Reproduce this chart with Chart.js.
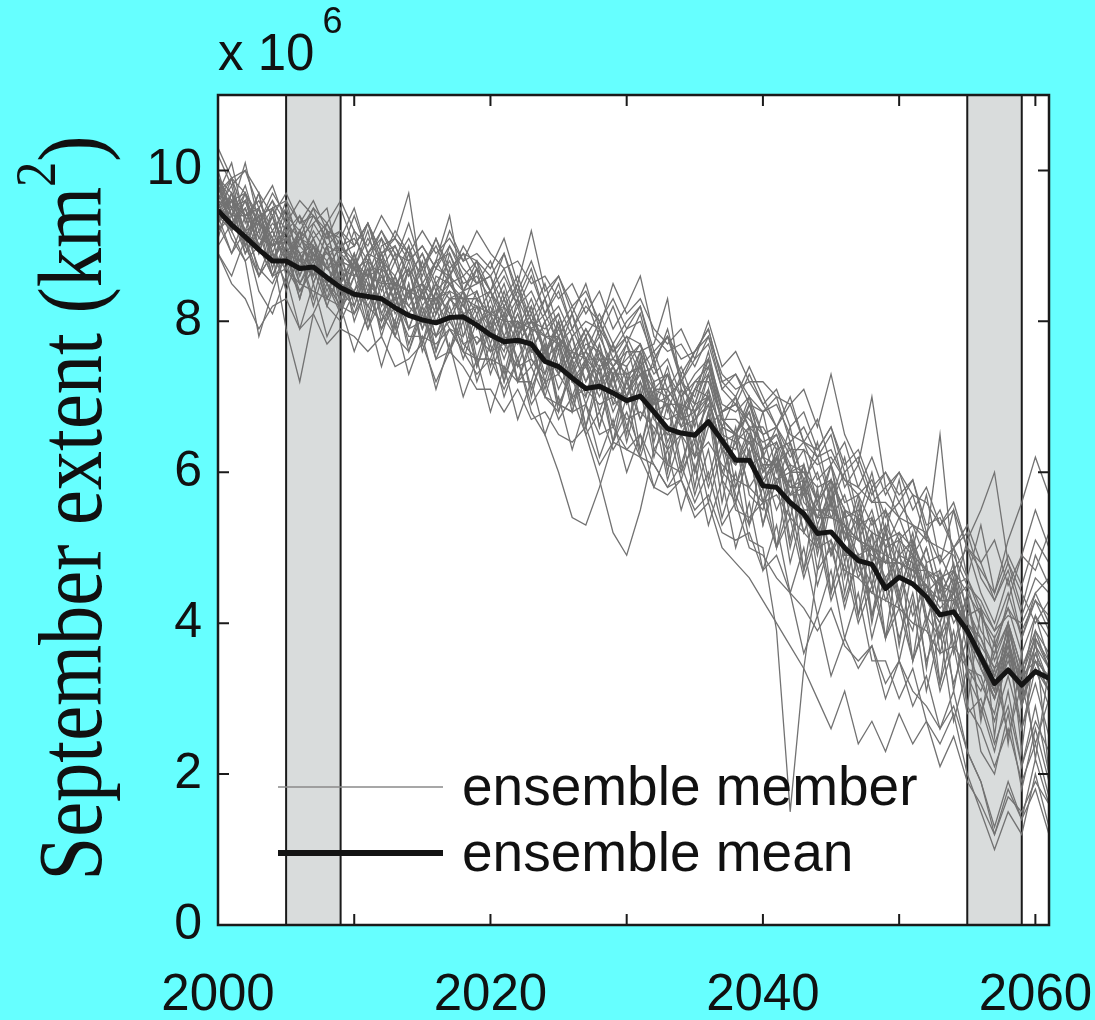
<!DOCTYPE html>
<html>
<head>
<meta charset="utf-8">
<script src="https://cdn.jsdelivr.net/npm/chart.js@4.4.1/dist/chart.umd.min.js"></script>
<style>
html,body{margin:0;padding:0;background:#66ffff;}
#wrap{width:1095px;height:1020px;}
canvas{display:block;}
</style>
</head>
<body>
<div id="wrap"><canvas id="c" width="1095" height="1020"></canvas></div>
<script>
// ---- categories ----
const years = [2000,2001,2002,2003,2004,2005,2006,2007,2008,2009,
  2010,2011,2012,2013,2014,2015,2016,2017,2018,2019,
  2020,2021,2022,2023,2024,2025,2026,2027,2028,2029,
  2030,2031,2032,2033,2034,2035,2036,2037,2038,2039,
  2040,2041,2042,2043,2044,2045,2046,2047,2048,2049,
  2050,2051,2052,2053,2054,2055,2056,2057,2058,2059,2060,2061];

// ---- tick labels & annotations ----
const xTickValues = [2000,2010,2020,2030,2040,2050,2060];
const xTickLabels = [2000,2020,2040,2060];
const yTickValues = [0,2,4,6,8,10];
const bands = [[2005,2009],[2055,2059]];
const legendLabels = ['ensemble member','ensemble mean'];
const yTitle = 'September extent (km';
const ySup = '2';
const multiplierText = 'x 10';
const multiplierExp = '6';

// ---- ensemble mean (x 10^6 km^2) ----
const ensembleMean = [9.47,9.28,9.12,8.95,8.80,8.80,8.70,8.72,8.58,8.45,
  8.36,8.33,8.30,8.18,8.08,8.02,7.98,8.05,8.06,7.95,
  7.82,7.73,7.75,7.70,7.47,7.40,7.25,7.11,7.14,7.05,
  6.95,7.01,6.80,6.58,6.52,6.49,6.67,6.42,6.16,6.16,
  5.82,5.80,5.60,5.45,5.19,5.21,5.00,4.83,4.78,4.46,
  4.61,4.52,4.35,4.11,4.15,3.90,3.55,3.20,3.38,3.18,3.36,3.27];

// ---- ensemble members ----
const m01 = [9.9,9.5,10.1,9.3,9.6,9.0,9.4,8.8,9.3,8.9,
  8.7,9.2,8.5,8.9,8.3,8.8,8.2,8.9,8.4,8.1,
  8.4,7.8,8.2,7.6,8.0,7.3,7.8,7.0,7.6,6.9,
  7.4,6.7,7.2,6.3,6.9,6.0,6.8,5.9,5.6,6.3,
  5.3,5.9,4.8,5.5,4.5,5.1,4.2,4.9,3.8,4.5,
  3.5,4.3,3.1,3.9,2.7,3.4,2.3,2.0,2.8,1.8,2.6,1.9];
const m02 = [9.7,9.9,9.4,9.6,9.2,9.5,9.1,9.3,9.0,9.2,
  8.8,9.3,8.9,9.0,8.6,8.9,8.4,9.0,8.7,8.5,
  8.6,8.2,8.5,8.0,8.3,7.8,8.1,7.6,8.0,7.5,
  7.8,7.4,7.6,7.1,7.4,6.9,7.5,6.8,7.0,6.6,
  6.6,6.3,6.4,5.9,6.2,5.6,6.0,5.3,5.8,5.0,
  5.4,4.9,5.2,4.5,5.0,4.1,4.2,3.5,4.0,3.4,3.9,3.6];
const m03 = [10.2,9.8,10.0,9.5,9.8,9.3,9.6,9.4,9.1,9.5,
  9.0,9.3,8.8,9.2,8.9,8.6,9.1,8.7,8.9,8.8,
  8.4,8.7,8.2,8.6,8.1,8.4,7.9,8.2,8.0,7.6,
  7.9,8.0,7.5,7.8,7.2,7.5,7.7,7.1,6.9,7.3,
  6.9,6.6,7.0,6.4,6.3,6.6,6.0,6.2,5.7,6.0,
  5.6,5.9,5.2,5.5,5.0,5.3,4.8,5.1,4.5,4.9,4.7,5.2];
const m04 = [9.3,9.6,8.9,9.3,8.6,9.0,8.3,8.9,8.2,8.7,
  8.1,8.6,7.8,8.4,7.6,8.2,7.5,7.6,8.0,7.2,
  7.7,7.0,7.5,6.8,6.5,6.0,5.4,5.3,5.8,6.4,
  6.8,6.3,7.0,6.1,6.0,6.4,5.6,6.3,5.5,5.4,
  5.6,5.0,5.4,4.6,5.2,4.3,4.8,4.0,4.5,3.8,
  4.2,3.5,4.0,3.1,3.7,2.8,3.0,2.4,2.9,2.1,2.7,2.3];
const m05 = [9.6,9.1,8.8,7.8,8.4,8.9,8.3,9.0,8.5,8.1,
  8.8,8.3,9.0,9.1,9.7,8.5,8.1,8.7,7.8,8.3,
  7.7,8.2,7.4,7.9,7.2,7.8,7.0,7.5,6.8,7.3,
  6.6,7.2,6.5,7.0,6.1,6.7,6.9,6.0,5.8,6.3,
  5.6,5.9,6.1,5.2,5.7,4.9,5.5,4.7,4.4,5.0,
  4.2,4.9,4.0,4.6,3.6,4.3,3.4,3.0,3.8,2.9,3.5,3.1];
const m06 = [9.4,8.9,9.4,8.6,9.1,8.4,8.9,8.2,8.8,8.1,
  8.6,7.9,8.5,7.8,8.4,7.7,8.2,7.6,8.1,7.4,
  7.9,7.2,7.8,7.1,7.6,6.9,7.3,6.5,5.9,5.2,
  4.9,5.5,6.3,6.6,5.9,6.5,5.8,6.4,5.7,5.3,
  5.8,5.0,5.6,4.7,5.3,4.4,5.0,4.1,4.7,3.8,
  4.4,3.5,4.1,3.2,3.9,2.9,2.6,2.1,2.6,1.9,2.4,1.7];
const m07 = [9.5,9.8,9.1,9.5,8.8,9.2,8.5,8.9,8.4,8.8,
  8.0,8.5,7.9,8.4,7.7,8.2,7.6,8.1,7.5,8.0,
  7.3,7.8,7.2,7.7,7.0,6.8,7.4,6.6,7.2,6.4,
  7.0,6.2,6.8,5.9,6.5,5.7,6.3,5.4,6.0,5.1,
  5.0,3.9,1.5,3.4,4.7,5.0,4.3,4.9,4.1,4.6,
  3.8,4.4,3.5,4.0,3.2,3.8,2.8,3.4,2.5,3.2,2.4,3.0];
const m08 = [9.1,9.7,9.4,8.9,9.5,8.8,9.2,8.6,9.0,8.5,
  8.9,8.4,8.8,8.2,8.7,8.1,8.5,8.0,8.4,7.9,
  8.3,7.7,8.1,7.6,8.0,7.4,7.8,7.2,7.7,7.1,
  7.6,7.6,6.9,7.4,6.7,7.1,7.5,6.6,7.0,6.2,
  6.8,6.0,6.6,5.8,6.4,5.6,6.2,5.4,6.0,5.2,
  5.9,5.0,5.7,4.8,5.5,4.6,5.3,4.4,5.1,5.6,6.2,5.7];
const m09 = [8.9,8.6,9.1,8.4,8.1,8.6,7.9,8.5,7.8,8.2,
  7.6,8.1,7.4,8.0,7.3,7.8,7.1,7.7,7.0,7.5,
  6.8,7.4,6.7,7.2,6.5,7.0,6.3,6.9,6.2,6.7,
  6.0,6.5,5.8,6.3,5.5,6.1,5.3,5.9,5.0,5.6,
  4.7,5.3,4.4,5.0,4.1,4.7,3.8,4.4,3.5,3.5,
  3.0,3.4,2.7,2.4,2.8,2.0,1.5,1.0,1.5,1.2,2.0,1.3];
const m10 = [9.8,9.2,9.6,9.0,8.6,9.1,8.9,8.3,9.0,8.2,
  8.8,8.0,8.7,7.9,8.5,7.6,8.1,8.4,7.7,7.5,
  8.1,7.3,8.0,7.7,7.1,7.7,6.9,7.5,7.3,6.6,
  7.2,7.4,6.4,7.1,6.8,6.0,6.6,6.8,5.8,6.5,
  5.6,6.3,5.4,6.1,5.0,5.8,4.8,5.6,4.5,5.3,
  4.3,5.1,4.1,3.8,4.6,3.6,3.2,2.8,3.6,2.6,3.4,2.9];
const m11 = [10.0,9.4,9.0,9.5,8.9,8.5,9.1,9.0,8.3,8.9,
  8.2,8.8,8.1,7.8,8.4,8.5,7.6,8.3,8.4,7.5,
  7.5,8.1,7.2,7.2,7.8,6.9,6.8,7.5,6.6,7.3,
  6.5,7.5,6.3,6.1,7.0,6.2,7.1,5.9,6.6,5.7,
  5.5,6.2,5.1,5.9,4.9,5.7,4.6,5.4,4.1,5.0,
  4.3,3.9,4.8,3.6,4.3,3.3,2.9,2.3,3.1,2.1,2.9,2.0];
const m12 = [9.6,9.4,9.8,9.2,9.5,9.6,9.0,9.4,9.2,8.9,
  9.4,8.9,9.1,8.8,9.3,8.7,9.1,8.6,9.0,8.7,
  8.4,8.9,8.3,8.7,8.1,8.5,7.9,8.3,7.8,8.2,
  7.7,8.1,7.4,7.9,7.2,7.6,7.8,7.1,7.3,6.9,
  6.8,7.0,6.4,6.6,6.2,6.5,5.8,6.1,5.6,5.8,
  5.4,5.7,5.1,6.5,4.7,5.0,4.4,4.0,4.6,3.8,4.4,4.0];
const m13 = [9.7,10.1,9.3,9.7,9.0,9.5,8.7,9.3,9.5,8.7,
  9.2,8.6,9.1,8.4,9.0,8.3,8.8,9.4,8.4,8.5,
  8.6,8.0,8.5,7.8,8.3,7.6,8.1,7.4,7.9,7.2,
  7.7,7.0,7.5,6.8,7.3,6.6,7.3,6.4,6.3,6.9,
  6.5,5.8,6.4,5.6,5.4,6.1,5.1,5.7,4.8,5.5,
  4.6,5.2,4.3,4.0,4.7,3.8,3.5,3.1,4.0,3.0,3.9,3.4];
const m14 = [9.4,9.6,9.2,9.0,9.4,8.9,9.2,9.0,8.8,9.1,
  8.6,8.9,8.8,8.4,8.9,8.3,8.7,8.6,8.4,8.8,
  8.1,8.5,7.9,8.3,7.8,8.1,7.5,7.9,7.6,7.4,
  7.7,7.3,7.4,7.0,7.2,6.8,7.3,6.7,6.5,6.9,
  6.3,6.5,6.0,6.1,5.6,5.9,5.4,5.5,5.0,5.3,
  4.9,5.1,4.6,4.7,4.3,4.5,3.9,3.6,4.0,3.4,3.8,3.5];
const m15 = [9.9,9.7,9.2,9.7,8.9,9.4,8.8,8.6,9.2,8.5,
  8.4,8.9,8.3,8.0,8.7,7.9,8.4,8.6,8.1,7.7,
  7.9,7.6,8.3,7.5,7.3,8.0,7.2,7.0,7.7,6.9,
  7.0,7.5,6.7,6.5,7.1,6.4,7.0,6.3,6.1,6.6,
  5.8,6.3,5.6,5.4,5.1,5.9,4.9,4.9,4.5,5.2,
  4.4,5.0,4.0,4.7,3.7,4.4,3.4,3.1,4.0,3.2,4.1,3.5];
const m16 = [9.8,9.5,9.6,9.3,9.7,9.4,9.2,9.5,9.3,9.6,
  9.2,9.0,9.4,9.1,8.9,9.2,8.9,9.1,8.8,9.2,
  8.9,8.7,8.8,8.5,8.6,8.3,8.5,8.1,8.4,7.9,
  8.2,8.6,7.8,7.6,7.7,7.4,7.8,7.3,7.1,7.2,
  6.9,7.1,6.6,6.8,6.3,6.6,6.1,6.3,5.8,6.0,
  5.7,5.9,5.3,5.4,5.0,5.2,4.6,4.3,4.8,4.2,4.9,4.5];
const m17 = [10.3,9.9,10.0,9.7,9.4,9.7,9.3,9.6,9.2,9.1,
  9.5,8.9,9.2,8.8,9.1,8.7,9.0,8.6,8.9,8.5,
  8.8,8.3,8.6,8.1,8.5,7.9,8.2,7.8,8.1,7.7,
  8.0,8.2,7.5,7.8,7.3,7.6,7.9,7.2,7.0,7.4,
  7.0,6.6,6.9,6.4,6.7,6.1,6.4,5.8,6.2,5.7,
  6.0,5.5,5.8,5.3,5.6,5.0,4.8,4.3,4.7,4.1,4.6,4.4];
const m18 = [9.3,9.7,9.0,9.4,8.7,9.3,8.9,8.6,9.2,8.5,
  8.9,8.3,8.9,8.2,8.7,8.0,8.6,8.5,8.2,8.7,
  7.9,8.4,7.8,8.2,7.5,8.0,7.3,7.8,7.1,7.7,
  7.0,7.6,6.8,7.3,6.6,7.1,7.0,6.6,6.5,6.8,
  6.0,6.4,5.7,6.1,5.3,5.8,5.1,5.4,4.8,5.2,
  4.7,4.9,4.4,4.6,4.0,4.3,3.6,3.3,3.8,3.1,3.7,3.2];
const m19 = [9.2,9.5,9.0,8.6,8.9,7.9,7.2,8.1,8.5,8.2,
  8.6,8.9,8.4,8.8,8.3,8.7,8.2,8.6,8.0,8.4,
  7.9,8.3,7.8,8.2,7.6,8.0,7.4,7.7,7.6,7.3,
  7.5,7.7,7.1,7.3,6.8,7.1,7.3,6.7,6.5,6.8,
  6.2,6.1,6.3,5.7,6.0,5.4,5.7,5.1,5.5,4.8,
  5.2,4.6,5.0,4.3,4.6,3.9,3.5,3.0,3.7,2.9,3.6,3.2];
const m20 = [9.7,9.3,9.5,9.0,9.2,8.8,9.1,8.9,8.7,9.0,
  8.7,8.8,8.6,8.3,8.8,8.2,8.5,8.3,8.3,8.4,
  7.9,8.3,7.8,8.1,7.6,7.9,7.5,7.8,7.3,7.7,
  7.2,7.6,7.7,8.3,7.1,6.9,7.4,6.7,6.5,7.0,
  6.2,6.6,6.0,6.3,5.6,6.1,5.3,4.7,5.4,4.5,
  5.1,4.5,5.0,4.3,4.8,3.9,3.6,3.1,3.8,2.9,3.6,3.2];
const m21 = [9.3,8.9,9.2,8.7,8.5,8.9,8.4,8.7,8.2,8.0,
  8.4,7.9,8.3,7.8,7.6,8.1,7.5,7.9,7.6,7.3,
  7.5,7.1,7.5,6.9,7.2,6.7,7.0,6.5,6.8,6.3,
  6.6,6.2,6.1,5.8,6.1,5.6,6.0,5.3,5.6,5.0,
  4.9,4.6,4.4,3.6,4.1,3.3,3.8,3.4,3.7,3.0,
  3.5,2.9,3.3,2.6,3.1,2.3,1.9,1.2,1.8,1.4,2.2,1.6];
const m22 = [9.8,9.3,9.6,9.1,9.0,9.2,8.7,9.0,8.5,8.8,
  8.7,8.3,8.8,8.4,8.2,8.5,8.1,8.5,8.2,8.0,
  8.1,7.7,8.1,7.6,7.5,7.7,7.2,7.4,7.0,7.4,
  6.9,7.2,6.8,6.5,6.5,6.9,7.0,6.3,6.1,6.5,
  5.9,6.1,5.7,5.8,5.2,5.6,5.2,4.8,5.2,4.5,
  4.9,4.8,4.3,4.0,4.5,4.0,3.8,3.3,3.7,3.2,3.7,3.4];
const m23 = [9.5,9.2,9.5,9.0,9.3,9.1,8.8,9.2,8.9,9.0,
  8.7,9.1,8.8,8.6,9.0,8.5,8.8,8.9,8.5,8.6,
  8.3,8.6,8.2,8.4,8.0,8.2,7.8,8.0,7.9,7.6,
  7.8,7.7,7.3,7.5,7.0,7.3,7.5,6.9,6.8,7.0,
  6.5,6.6,6.2,6.4,5.9,6.1,5.6,5.7,5.3,5.5,
  5.1,5.3,4.8,4.9,4.5,4.6,4.1,3.7,4.2,3.6,4.1,3.8];
const m24 = [9.6,9.9,9.7,9.3,9.6,9.3,9.1,9.5,9.0,8.9,
  9.0,9.3,8.7,9.0,8.6,8.9,8.5,8.8,8.4,8.7,
  8.4,8.1,8.4,8.0,7.9,8.1,7.6,7.9,7.5,7.5,
  7.4,7.7,7.1,7.1,6.8,7.2,7.2,6.7,6.7,6.5,
  6.3,6.4,6.0,6.0,5.6,5.9,5.5,5.4,5.2,5.1,
  5.2,5.0,4.7,4.6,4.7,4.4,4.1,3.8,4.2,3.9,4.3,4.1];
const m25 = [8.9,8.5,8.3,7.9,8.2,8.3,7.9,8.1,7.7,7.9,
  7.8,7.6,7.8,7.4,7.5,7.7,7.2,7.6,7.4,7.1,
  7.1,6.8,7.1,6.7,6.8,6.5,6.4,6.6,6.1,6.4,
  6.3,6.2,5.8,5.7,5.9,5.5,5.7,5.2,5.1,5.2,
  4.7,4.9,4.4,4.2,3.9,4.2,3.7,3.5,3.7,3.2,
  3.5,3.1,2.9,2.6,2.9,2.3,1.9,1.3,1.9,1.4,1.8,1.2];
const m26 = [9.9,9.6,9.7,9.4,9.5,9.2,9.4,9.1,9.3,9.0,
  9.1,8.8,9.2,8.9,8.8,9.0,8.7,9.2,8.8,8.9,
  8.7,9.1,8.5,9.2,8.4,8.6,8.2,8.4,8.0,8.3,
  7.9,8.2,7.6,7.8,7.5,7.6,7.9,7.2,7.3,7.0,
  6.8,6.9,6.5,6.4,6.2,6.3,5.9,5.7,5.9,5.4,
  5.6,5.3,5.2,4.8,5.0,4.6,4.2,3.9,4.4,3.8,4.3,3.9];
const m27 = [9.4,9.7,9.0,9.4,8.8,9.1,8.6,9.0,8.5,8.3,
  8.7,8.2,8.6,8.1,8.4,7.9,8.3,7.9,7.8,8.2,
  7.6,8.0,7.5,7.9,7.3,7.7,7.2,7.5,7.1,7.4,
  7.0,7.3,6.8,6.9,6.6,6.7,7.0,6.3,6.1,6.4,
  5.9,6.2,5.7,5.7,5.4,5.4,5.3,5.1,5.0,4.9,
  4.8,4.7,4.7,4.5,4.4,5.1,5.5,6.0,4.8,4.4,4.0,4.3];
const m28 = [9.2,9.4,8.9,9.2,8.6,9.0,8.5,8.8,8.3,8.6,
  8.4,8.7,8.2,8.5,8.1,8.4,8.0,8.3,8.1,8.2,
  7.9,8.1,7.7,8.0,7.6,7.8,7.3,7.6,7.2,7.4,
  7.1,7.3,6.9,7.0,6.7,6.8,7.1,6.5,6.4,6.6,
  6.0,6.2,5.8,5.9,5.4,5.6,5.2,5.1,4.9,4.8,
  4.8,4.7,4.5,4.2,4.4,3.9,3.5,3.0,3.6,3.0,3.4,3.1];
const m29 = [9.9,9.4,9.7,9.1,9.4,8.9,8.8,9.1,8.7,8.5,
  8.8,8.5,8.3,8.6,8.2,8.0,8.4,8.1,8.4,7.9,
  8.2,7.8,7.7,8.0,7.6,7.3,7.6,7.2,7.5,7.1,
  7.0,7.4,6.8,6.7,6.8,6.5,6.9,6.4,6.5,6.1,
  6.2,5.9,6.0,5.5,5.5,5.4,5.3,4.9,5.0,4.6,
  4.9,4.5,4.5,4.1,4.4,3.8,3.4,3.0,3.5,3.0,3.5,3.1];
const m30 = [9.4,9.3,9.5,9.0,9.2,8.8,9.1,8.9,8.7,9.0,
  8.8,8.6,8.9,8.5,8.7,8.4,8.8,8.5,8.6,8.3,
  8.4,8.0,8.3,7.9,8.1,7.7,7.9,7.5,7.8,7.4,
  7.6,7.6,7.2,7.3,7.0,7.2,7.4,6.8,6.9,6.6,
  6.4,6.5,6.1,6.0,5.8,5.9,5.5,5.3,5.4,5.0,
  5.1,4.9,4.7,4.4,4.7,4.2,3.8,3.4,3.9,3.3,3.8,3.4];
const m31 = [9.9,9.2,9.7,8.9,9.4,8.6,9.2,8.5,9.0,8.3,
  8.9,8.1,8.7,7.9,8.5,7.7,8.4,7.6,8.3,7.4,
  8.0,7.2,7.9,7.0,7.7,6.8,7.5,6.6,7.4,6.4,
  7.3,6.3,7.1,6.0,6.9,5.8,6.8,5.6,6.5,5.3,
  6.3,5.0,6.0,4.7,5.8,4.4,5.5,4.1,5.2,3.8,
  5.0,3.5,4.7,3.2,4.5,2.9,4.2,2.5,3.9,2.3,3.8,2.0];
const m32 = [9.4,9.9,9.1,9.5,8.8,9.3,8.6,9.1,8.5,8.9,
  8.3,8.8,8.0,8.6,7.9,8.4,7.8,8.2,7.6,8.1,
  7.4,8.0,7.2,7.8,7.0,7.6,6.8,7.5,6.6,7.3,
  6.4,7.1,6.2,6.9,6.0,6.8,5.9,6.6,5.6,6.3,
  5.3,6.1,5.0,5.8,4.7,5.6,4.4,5.3,4.0,5.0,
  3.7,4.8,3.4,4.5,3.1,4.1,2.7,3.8,2.4,3.6,2.2,3.4];
const m33 = [9.5,9.6,9.2,9.3,9.0,9.1,8.9,9.0,8.7,8.8,
  8.7,8.6,8.7,8.5,8.4,8.5,8.3,8.5,8.3,8.3,
  8.1,8.2,7.9,8.0,7.8,7.7,7.6,7.5,7.5,7.3,
  7.3,7.4,7.0,6.9,6.9,6.8,7.0,6.6,6.5,6.4,
  6.1,6.1,5.8,5.8,5.5,5.5,5.3,5.1,5.0,4.8,
  4.8,4.7,4.5,4.3,4.3,4.0,3.7,3.4,3.6,3.3,3.5,3.3];
const m34 = [9.0,9.3,9.1,8.6,8.9,8.7,8.4,8.7,8.5,8.2,
  8.4,8.2,8.0,8.3,7.9,8.0,7.8,8.0,7.7,7.8,
  7.6,7.7,7.4,7.5,7.2,7.3,7.0,7.1,6.9,7.0,
  6.7,6.8,6.6,6.3,6.5,6.2,6.4,6.1,5.9,5.8,
  5.6,5.7,5.4,5.2,5.0,5.1,4.7,4.6,4.4,4.3,
  4.2,4.0,3.9,3.6,3.7,3.4,3.1,3.6,4.3,4.9,5.5,5.0];
const m35 = [9.8,9.4,9.4,9.5,8.9,8.7,9.2,8.5,9.0,8.4,
  8.2,8.7,8.1,8.5,7.9,8.4,7.8,8.3,8.1,7.7,
  8.0,7.5,8.0,7.4,7.7,7.1,7.5,6.9,7.4,6.8,
  7.2,6.7,7.1,6.4,6.8,6.2,6.8,6.0,6.4,5.8,
  6.1,5.5,5.9,5.2,5.6,4.9,5.3,4.6,5.0,4.3,
  4.7,4.1,4.5,3.8,4.2,3.4,3.3,2.7,3.3,2.6,3.2,2.5];
const m36 = [9.3,9.6,9.4,9.5,9.1,9.6,9.3,9.4,9.1,9.2,
  9.0,9.3,8.9,9.1,8.8,9.0,8.7,9.0,8.6,8.8,
  8.6,8.9,8.4,8.8,8.3,8.6,8.1,8.5,7.9,8.5,
  8.1,8.3,7.9,7.7,7.9,7.5,8.0,7.4,7.6,7.2,
  7.2,7.0,6.9,7.1,6.6,7.3,6.5,6.1,7.0,5.8,
  6.0,5.7,5.6,5.3,5.5,5.0,4.7,4.4,4.9,4.5,5.1,4.8];
const m37 = [9.4,9.2,8.8,9.0,8.6,8.7,8.5,8.4,8.3,8.2,
  8.1,8.4,7.9,8.2,7.8,7.8,7.7,7.9,7.6,7.5,
  7.5,7.4,7.2,7.4,7.0,6.9,6.8,6.9,6.5,6.6,
  6.3,6.5,6.1,5.8,5.9,5.4,5.6,5.0,4.8,4.6,
  4.3,4.0,3.7,3.4,3.0,2.6,3.1,2.4,2.7,2.3,
  2.8,2.4,2.7,2.1,2.5,1.9,1.6,1.2,1.7,1.5,1.9,1.6];
const m38 = [9.6,9.5,9.2,9.3,9.1,8.9,9.0,8.8,8.9,8.7,
  8.6,8.6,8.5,8.5,8.4,8.3,8.3,8.4,8.3,8.2,
  8.1,8.0,8.0,7.9,7.8,7.8,7.5,7.6,7.4,7.5,
  7.3,7.4,7.1,7.0,7.2,7.0,7.6,6.8,6.9,6.7,
  6.5,6.6,6.3,6.3,6.1,6.2,5.9,5.8,5.6,5.6,
  5.4,5.3,5.1,5.0,4.9,4.5,4.3,3.9,4.1,4.0,4.4,4.6];

const memberSeries = [m01,m02,m03,m04,m05,m06,m07,m08,m09,m10,m11,m12,
  m13,m14,m15,m16,m17,m18,m19,m20,m21,m22,m23,m24,m25,m26,m27,m28,
  m29,m30,m31,m32,m33,m34,m35,m36,m37,m38];

// ---- styles ----
const memberColor = '#727272';
const meanColor = '#141414';
const bandColor = '#d9dcdc';
const frameColor = '#1a1a1a';

function toPoints(arr){ return years.map((yr,i)=>({x:yr, y:arr[i]})); }

const datasets = [{
  label: legendLabels[1], data: toPoints(ensembleMean), borderColor: meanColor,
  borderWidth: 5, pointRadius: 0, tension: 0, order: 0, borderJoinStyle: 'round'
}];
memberSeries.forEach((s, i) => datasets.push({
  label: legendLabels[0] + ' ' + (i+1), data: toPoints(s), borderColor: memberColor,
  borderWidth: 1.3, pointRadius: 0, tension: 0, order: 1
}));

const decor = {
  id: 'decor',
  beforeDatasetsDraw(chart){
    const {ctx, chartArea:a, scales:{x}} = chart;
    ctx.save();
    ctx.fillStyle = '#ffffff';
    ctx.fillRect(a.left, a.top, a.right-a.left, a.bottom-a.top);
    bands.forEach(([b0,b1]) => {
      const x0 = x.getPixelForValue(b0), x1 = x.getPixelForValue(b1);
      ctx.fillStyle = bandColor;
      ctx.fillRect(x0, a.top, x1-x0, a.bottom-a.top);
      ctx.strokeStyle = frameColor; ctx.lineWidth = 2;
      ctx.beginPath();
      ctx.moveTo(x0, a.top); ctx.lineTo(x0, a.bottom);
      ctx.moveTo(x1, a.top); ctx.lineTo(x1, a.bottom);
      ctx.stroke();
    });
    ctx.restore();
  },
  afterDatasetsDraw(chart){
    const {ctx, chartArea:a} = chart;
    ctx.save();
    const lx0 = a.left + 60, lx1 = a.left + 225, tx = a.left + 244;
    const rows = [[a.bottom - 138, '#8a8a8a', 1.6, legendLabels[0]],
                  [a.bottom - 72, meanColor, 6, legendLabels[1]]];
    rows.forEach(([yy, col, w, txt]) => {
      ctx.strokeStyle = col; ctx.lineWidth = w;
      ctx.beginPath(); ctx.moveTo(lx0, yy); ctx.lineTo(lx1, yy); ctx.stroke();
      ctx.fillStyle = '#111';
      ctx.font = "55px 'Liberation Sans', Arial, sans-serif";
      ctx.textBaseline = 'middle'; ctx.textAlign = 'left';
      ctx.fillText(txt, tx, yy + 3);
    });
    ctx.restore();
  },
  afterDraw(chart){
    const {ctx, chartArea:a, scales:{x, y}} = chart;
    ctx.save();
    ctx.strokeStyle = frameColor; ctx.lineWidth = 2;
    ctx.beginPath();
    xTickValues.forEach(v => {
      const px = x.getPixelForValue(v);
      ctx.moveTo(px, a.bottom); ctx.lineTo(px, a.bottom - 11);
      ctx.moveTo(px, a.top); ctx.lineTo(px, a.top + 11);
    });
    yTickValues.forEach(v => {
      const py = y.getPixelForValue(v);
      ctx.moveTo(a.left, py); ctx.lineTo(a.left + 11, py);
      ctx.moveTo(a.right, py); ctx.lineTo(a.right - 11, py);
    });
    ctx.stroke();
    ctx.lineWidth = 2.5;
    ctx.strokeRect(a.left, a.top, a.right-a.left, a.bottom-a.top);
    // multiplier
    ctx.fillStyle = '#111';
    ctx.textBaseline = 'alphabetic'; ctx.textAlign = 'left';
    ctx.font = "51px 'Liberation Sans', Arial, sans-serif";
    ctx.fillText(multiplierText, a.left, 70);
    const mw = ctx.measureText(multiplierText).width;
    ctx.font = "36px 'Liberation Sans', Arial, sans-serif";
    ctx.fillText(multiplierExp, a.left + mw + 8, 33);
    // y title (rotated, condensed serif)
    const mainFont = "90px 'Liberation Serif', 'Times New Roman', serif";
    const supFont = "58px 'Liberation Serif', 'Times New Roman', serif";
    ctx.font = mainFont;
    const w1 = ctx.measureText(yTitle).width;
    const w3 = ctx.measureText(')').width;
    ctx.font = supFont;
    const w2 = ctx.measureText(ySup).width;
    const total = w1 + w2 + w3;
    const sx = 745 / total;
    ctx.translate(101, (a.top + a.bottom)/2 - 2);
    ctx.rotate(-Math.PI/2);
    ctx.scale(sx, 1);
    let cx = -total/2;
    ctx.font = mainFont; ctx.fillText(yTitle, cx, 0); cx += w1;
    ctx.font = supFont; ctx.fillText(ySup, cx, -46); cx += w2;
    ctx.font = mainFont; ctx.fillText(')', cx, 0);
    ctx.restore();
  }
};

new Chart(document.getElementById('c'), {
  type: 'line',
  data: { datasets },
  options: {
    responsive: false, animation: false, devicePixelRatio: 1,
    layout: { padding: { left: 0, top: 95, right: 46, bottom: 0 } },
    plugins: { legend: { display: false }, tooltip: { enabled: false } },
    scales: {
      x: {
        type: 'linear', min: 2000, max: 2061,
        afterFit: s => { s.height = 95; s.paddingLeft = 0; s.paddingRight = 0; },
        afterBuildTicks: s => { s.ticks = xTickValues.map(v => ({value: v})); },
        grid: { display: false, drawTicks: false },
        border: { display: false },
        ticks: {
          autoSkip: false, maxRotation: 0, padding: 40, color: '#111',
          font: { family: "'Liberation Sans', Arial, sans-serif", size: 51 },
          callback: v => xTickLabels.includes(v) ? String(v) : ''
        }
      },
      y: {
        min: 0, max: 11,
        afterFit: s => { s.width = 218; s.paddingTop = 0; s.paddingBottom = 0; },
        afterBuildTicks: s => { s.ticks = yTickValues.map(v => ({value: v})); },
        grid: { display: false, drawTicks: false },
        border: { display: false },
        ticks: {
          padding: 16, color: '#111',
          font: { family: "'Liberation Sans', Arial, sans-serif", size: 50 },
          callback: v => String(v)
        }
      }
    }
  },
  plugins: [decor]
});
</script>
</body>
</html>
